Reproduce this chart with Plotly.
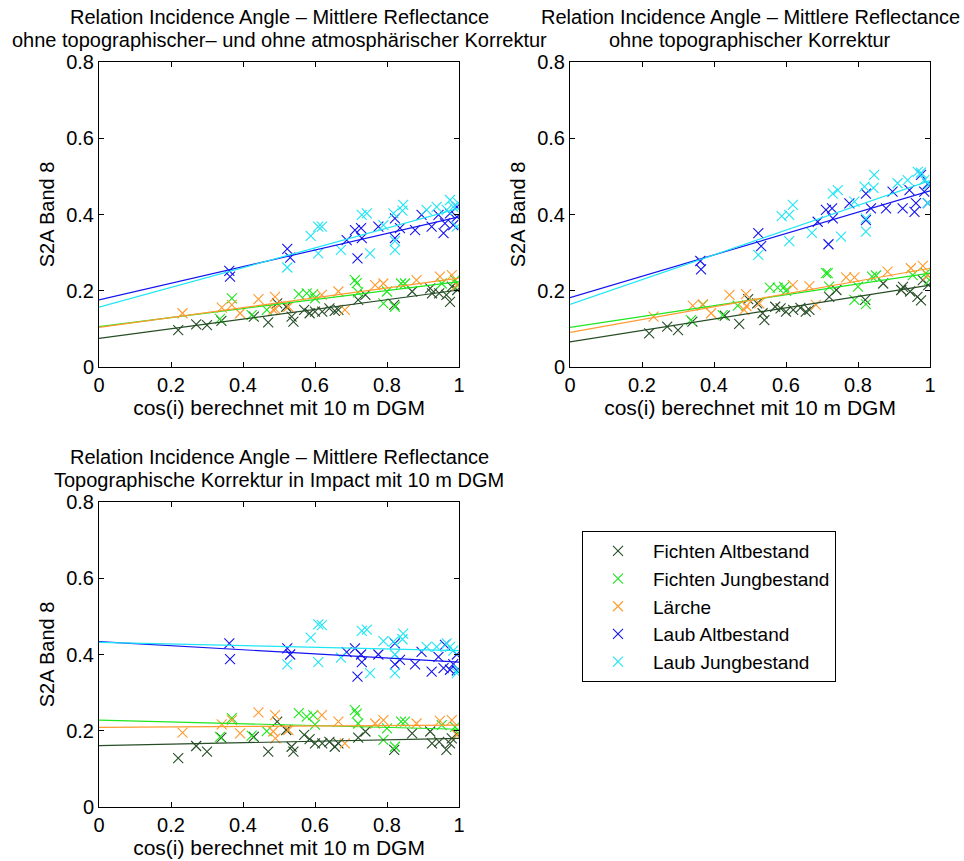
import plotly.graph_objects as go

W, H = 964, 861

classes = ["Fichten Altbestand", "Fichten Jungbestand", "Lärche", "Laub Altbestand", "Laub Jungbestand"]
colors = ["#264d26", "#1ee61e", "#ff9a2e", "#1414f0", "#1ee6f5"]

# cos(i) per class (same stands in all three panels)
x_fa = [0.22, 0.27, 0.30, 0.34, 0.43, 0.47, 0.495, 0.52, 0.535, 0.54, 0.57, 0.585, 0.60, 0.62,
        0.64, 0.655, 0.665, 0.72, 0.74, 0.82, 0.87, 0.92, 0.925, 0.945, 0.965, 0.975, 0.98, 0.995]
x_fj = [0.336, 0.369, 0.424, 0.466, 0.555, 0.577, 0.595, 0.60, 0.711, 0.716, 0.72, 0.79, 0.80,
        0.822, 0.839, 0.85, 0.952, 0.989, 0.998]
x_la = [0.232, 0.341, 0.369, 0.392, 0.443, 0.489, 0.484, 0.49, 0.526, 0.619, 0.665, 0.683, 0.767,
        0.79, 0.882, 0.947, 0.98, 0.994]
x_lba = [0.362, 0.364, 0.523, 0.531, 0.688, 0.711, 0.728, 0.73, 0.718, 0.776, 0.822, 0.836, 0.822,
         0.878, 0.896, 0.924, 0.943, 0.957, 0.961, 0.975, 0.984, 0.994, 0.994]
x_lbj = [0.523, 0.588, 0.609, 0.609, 0.619, 0.672, 0.730, 0.744, 0.753, 0.790, 0.818, 0.822, 0.822,
         0.845, 0.843, 0.910, 0.938, 0.966, 0.975, 0.984, 0.994, 0.998]

# Panel 1: ohne topographischer- und ohne atmosphärischer Korrektur
y1_fa = [0.097, 0.112, 0.110, 0.121, 0.132, 0.117, 0.167, 0.158, 0.132, 0.119, 0.150, 0.141, 0.145, 0.145,
         0.154, 0.147, 0.150, 0.176, 0.189, 0.163, 0.198, 0.206, 0.193, 0.193, 0.189, 0.171, 0.211, 0.202]
y1_fj = [0.126, 0.180, 0.136, 0.150, 0.191, 0.193, 0.191, 0.180, 0.228, 0.220, 0.196, 0.167, 0.198,
         0.158, 0.219, 0.219, 0.219, 0.228, 0.215]
y1_la = [0.141, 0.156, 0.163, 0.141, 0.178, 0.184, 0.150, 0.152, 0.158, 0.189, 0.198, 0.150, 0.215,
         0.219, 0.228, 0.237, 0.241, 0.215]
y1_lba = [0.252, 0.237, 0.310, 0.287, 0.333, 0.359, 0.364, 0.338, 0.285, 0.368, 0.390, 0.364, 0.338,
          0.359, 0.399, 0.368, 0.399, 0.351, 0.377, 0.403, 0.372, 0.394, 0.420]
y1_lbj = [0.261, 0.344, 0.368, 0.298, 0.368, 0.307, 0.399, 0.403, 0.298, 0.372, 0.403, 0.307, 0.330,
          0.425, 0.410, 0.412, 0.420, 0.412, 0.438, 0.420, 0.368, 0.430]

# Panel 2: ohne topographischer Korrektur
y2_fa = [0.088, 0.106, 0.097, 0.119, 0.135, 0.113, 0.178, 0.167, 0.141, 0.123, 0.158, 0.154, 0.145, 0.150,
         0.155, 0.145, 0.150, 0.184, 0.202, 0.176, 0.219, 0.202, 0.210, 0.198, 0.184, 0.175, 0.228, 0.215]
y2_fj = [0.123, 0.163, 0.136, 0.161, 0.208, 0.208, 0.210, 0.200, 0.246, 0.246, 0.211, 0.176, 0.211,
         0.165, 0.237, 0.240, 0.241, 0.246, 0.228]
y2_la = [0.132, 0.161, 0.164, 0.141, 0.189, 0.191, 0.150, 0.160, 0.167, 0.215, 0.212, 0.163, 0.235,
         0.235, 0.250, 0.259, 0.265, 0.240]
y2_lba = [0.278, 0.256, 0.351, 0.317, 0.381, 0.412, 0.416, 0.390, 0.322, 0.429, 0.455, 0.416, 0.385,
          0.416, 0.460, 0.416, 0.464, 0.407, 0.430, 0.504, 0.460, 0.430, 0.480]
y2_lbj = [0.294, 0.396, 0.399, 0.330, 0.425, 0.352, 0.455, 0.464, 0.342, 0.434, 0.473, 0.355, 0.390,
          0.504, 0.470, 0.482, 0.490, 0.512, 0.510, 0.490, 0.430, 0.480]

# Panel 3: Topographische Korrektur in Impact
y3_fa = [0.128, 0.160, 0.145, 0.182, 0.184, 0.145, 0.224, 0.202, 0.158, 0.145, 0.189, 0.178, 0.167, 0.167,
         0.171, 0.158, 0.167, 0.182, 0.198, 0.150, 0.193, 0.198, 0.167, 0.171, 0.150, 0.167, 0.180, 0.190]
y3_fj = [0.184, 0.233, 0.187, 0.199, 0.246, 0.237, 0.241, 0.216, 0.254, 0.245, 0.219, 0.176, 0.206,
         0.158, 0.224, 0.224, 0.215, 0.210, 0.193]
y3_la = [0.195, 0.217, 0.228, 0.193, 0.248, 0.241, 0.198, 0.180, 0.202, 0.241, 0.224, 0.167, 0.219,
         0.228, 0.219, 0.226, 0.228, 0.189]
y3_lba = [0.429, 0.388, 0.416, 0.400, 0.406, 0.416, 0.400, 0.380, 0.342, 0.400, 0.429, 0.386, 0.374,
          0.374, 0.407, 0.355, 0.394, 0.364, 0.425, 0.360, 0.375, 0.400, 0.358]
y3_lbj = [0.374, 0.444, 0.479, 0.380, 0.477, 0.392, 0.462, 0.465, 0.351, 0.435, 0.434, 0.351, 0.400,
          0.455, 0.440, 0.420, 0.420, 0.429, 0.420, 0.410, 0.351, 0.360]

# Regression lines (value at cos(i)=0 and cos(i)=1)
fit1_at0 = [0.075, 0.106, 0.104, 0.176, 0.157]
fit1_at1 = [0.202, 0.224, 0.233, 0.394, 0.416]
fit2_at0 = [0.066, 0.104, 0.091, 0.182, 0.164]
fit2_at1 = [0.215, 0.246, 0.259, 0.462, 0.489]
fit3_at0 = [0.161, 0.228, 0.209, 0.434, 0.432]
fit3_at1 = [0.180, 0.204, 0.215, 0.380, 0.410]

fit_x = [0, 1]

title_line1 = "Relation Incidence Angle – Mittlere Reflectance"
title_line2 = [
    "ohne topographischer– und ohne atmosphärischer Korrektur",
    "ohne topographischer Korrektur",
    "Topographische Korrektur in Impact mit 10 m DGM",
]
xlabel = "cos(i) berechnet mit 10 m DGM"
ylabel = "S2A Band 8"
xticks = [0, 0.2, 0.4, 0.6, 0.8, 1]
yticks = [0, 0.2, 0.4, 0.6, 0.8]

xs = [x_fa, x_fj, x_la, x_lba, x_lbj]
panels = [
    ([y1_fa, y1_fj, y1_la, y1_lba, y1_lbj], fit1_at0, fit1_at1),
    ([y2_fa, y2_fj, y2_la, y2_lba, y2_lbj], fit2_at0, fit2_at1),
    ([y3_fa, y3_fj, y3_la, y3_lba, y3_lbj], fit3_at0, fit3_at1),
]

FONT = "Liberation Sans, Arial, Helvetica, sans-serif"

# pixel boxes of the three axes (left, right, top, bottom)
boxes = [(99, 459, 62, 367), (570, 930, 62, 367), (99, 459, 502, 807)]

fig = go.Figure()
axnames = [("x", "y"), ("x2", "y2"), ("x3", "y3")]

for p, (ys, f0, f1) in enumerate(panels):
    xa, ya = axnames[p]
    for i in range(5):
        fig.add_trace(go.Scatter(
            x=xs[i], y=ys[i], mode="markers", name=classes[i],
            xaxis=xa, yaxis=ya, legendgroup=classes[i], showlegend=(p == 0),
            marker=dict(symbol="x-thin", size=10, color=colors[i],
                        line=dict(width=1.1, color=colors[i])),
        ))
    for i in range(5):
        fig.add_trace(go.Scatter(
            x=fit_x, y=[f0[i], f1[i]], mode="lines", xaxis=xa, yaxis=ya,
            line=dict(color=colors[i], width=1.2), showlegend=False, hoverinfo="skip",
        ))

layout = dict(
    width=W, height=H, margin=dict(l=0, r=0, t=0, b=0, autoexpand=False),
    paper_bgcolor="white", plot_bgcolor="white",
    font=dict(family=FONT, size=20, color="black"),
    showlegend=True,
    legend=dict(
        x=582 / W, y=1 - 531 / H, xanchor="left", yanchor="top",
        bordercolor="black", borderwidth=1, bgcolor="white",
        font=dict(family=FONT, size=19, color="black"),
        traceorder="grouped", tracegroupgap=0, itemwidth=60,
    ),
)

annotations = []
for p, (l, r, t, b) in enumerate(boxes):
    sfx = "" if p == 0 else str(p + 1)
    axis_common = dict(
        showline=True, linecolor="black", linewidth=1, mirror="ticks",
        ticks="inside", ticklen=5, tickcolor="black", showgrid=False, zeroline=False,
        tickfont=dict(family=FONT, size=20, color="black"), automargin=False,
    )
    layout["xaxis" + sfx] = dict(
        domain=[l / W, r / W], range=[0, 1], tickvals=xticks,
        anchor="y" + sfx,
        title=dict(text=xlabel, font=dict(family=FONT, size=21), standoff=3),
        **axis_common,
    )
    layout["yaxis" + sfx] = dict(
        domain=[1 - b / H, 1 - t / H], range=[0, 0.8], tickvals=yticks,
        anchor="x" + sfx,
        title=dict(text=ylabel, font=dict(family=FONT, size=20), standoff=6),
        **axis_common,
    )
    cx = (l + r) / 2 / W
    annotations.append(dict(
        text=title_line1, xref="paper", yref="paper", x=cx, y=1 - (t - 45) / H,
        xanchor="center", yanchor="middle", showarrow=False,
        font=dict(family=FONT, size=20, color="black"),
    ))
    annotations.append(dict(
        text=title_line2[p], xref="paper", yref="paper", x=cx, y=1 - (t - 22) / H,
        xanchor="center", yanchor="middle", showarrow=False,
        font=dict(family=FONT, size=20, color="black"),
    ))

layout["annotations"] = annotations
fig.update_layout(**layout)
fig.write_html("out.html")
